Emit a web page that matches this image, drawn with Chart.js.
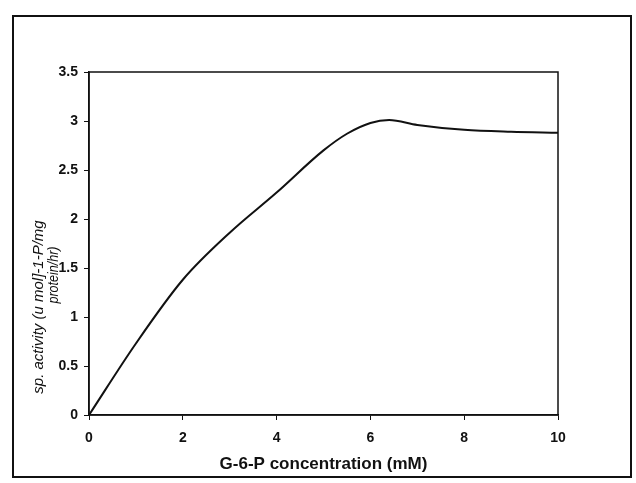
<!DOCTYPE html>
<html>
<head>
<meta charset="utf-8">
<script src="https://cdn.jsdelivr.net/npm/chart.js@4/dist/chart.umd.min.js"></script>
<style>
  html, body { margin: 0; padding: 0; background: #fff; }
  #wrap { position: relative; width: 636px; height: 483px; }
  #frame { position: absolute; left: 12px; top: 15px; width: 620px; height: 463px; border: 2px solid #111; box-sizing: border-box; pointer-events: none; }
  canvas { position: absolute; left: 0; top: 0; }
</style>
</head>
<body>
<div id="wrap">
  <canvas id="c" width="636" height="483"></canvas>
  <div id="frame"></div>
</div>
<script>
// Data
const concentration = [0, 1, 2, 3, 4, 5, 5.5, 6, 6.4, 7, 8, 9, 10];
const activity      = [0, 0.73, 1.38, 1.86, 2.27, 2.70, 2.87, 2.98, 3.01, 2.96, 2.91, 2.89, 2.88];
const xTicks = [0, 2, 4, 6, 8, 10];
const yTicks = [0, 0.5, 1, 1.5, 2, 2.5, 3, 3.5];
const xTitle = "G-6-P concentration (mM)";
const yTitleLines = ["sp. activity (u mol]-1-P/mg", "protein/hr)"];

const points = concentration.map((x, i) => ({ x: x, y: activity[i] }));

const boxPlugin = {
  id: 'box',
  afterDraw(chart) {
    const { ctx, chartArea: a } = chart;
    ctx.save();
    ctx.strokeStyle = '#111';
    ctx.lineWidth = 1.5;
    ctx.strokeRect(a.left, a.top, a.right - a.left, a.bottom - a.top);
    // y-axis title (two rotated lines, as in the reference)
    ctx.fillStyle = '#111';
    ctx.textAlign = 'center';
    ctx.textBaseline = 'middle';
    ctx.save();
    ctx.font = 'italic 15px "Liberation Sans", Arial, sans-serif';
    ctx.translate(39, 307);
    ctx.rotate(-Math.PI / 2);
    ctx.fillText(yTitleLines[0], 0, 0, 181);
    ctx.restore();
    ctx.save();
    ctx.font = 'italic 14px "Liberation Sans", Arial, sans-serif';
    ctx.translate(54, 275);
    ctx.rotate(-Math.PI / 2);
    ctx.fillText(yTitleLines[1], 0, 0, 57);
    ctx.restore();
    ctx.restore();
  }
};

const tickFont = { family: '"Liberation Sans", Arial, sans-serif', size: 14, weight: 'bold' };

new Chart(document.getElementById('c'), {
  type: 'line',
  data: {
    datasets: [{
      data: points,
      borderColor: '#111',
      borderWidth: 2,
      pointRadius: 0,
      fill: false,
      cubicInterpolationMode: 'monotone'
    }]
  },
  options: {
    responsive: false,
    animation: false,
    layout: { padding: { top: 72, right: 78, left: 0, bottom: 0 } },
    plugins: { legend: { display: false }, tooltip: { enabled: false } },
    scales: {
      x: {
        type: 'linear',
        min: 0, max: 10,
        afterFit(s) { s.height = 68; },
        afterBuildTicks(s) { s.ticks = xTicks.map(v => ({ value: v })); },
        grid: { drawOnChartArea: false, color: '#111', tickLength: 5 },
        border: { color: '#111', width: 1.5 },
        ticks: {
          color: '#111',
          padding: 10,
          font: tickFont,
          callback: v => String(v)
        },
        title: {
          display: true,
          text: xTitle,
          color: '#111',
          padding: { top: 0, bottom: 8 },
          font: { family: '"Liberation Sans", Arial, sans-serif', size: 17, weight: 'bold' }
        }
      },
      y: {
        type: 'linear',
        min: 0, max: 3.5,
        afterFit(s) { s.width = 89; },
        afterBuildTicks(s) { s.ticks = yTicks.map(v => ({ value: v })); },
        grid: { drawOnChartArea: false, color: '#111', tickLength: 5 },
        border: { color: '#111', width: 1.5 },
        ticks: {
          color: '#111',
          padding: 6,
          font: tickFont,
          callback: v => String(v)
        }
      }
    }
  },
  plugins: [boxPlugin]
});
</script>
</body>
</html>
